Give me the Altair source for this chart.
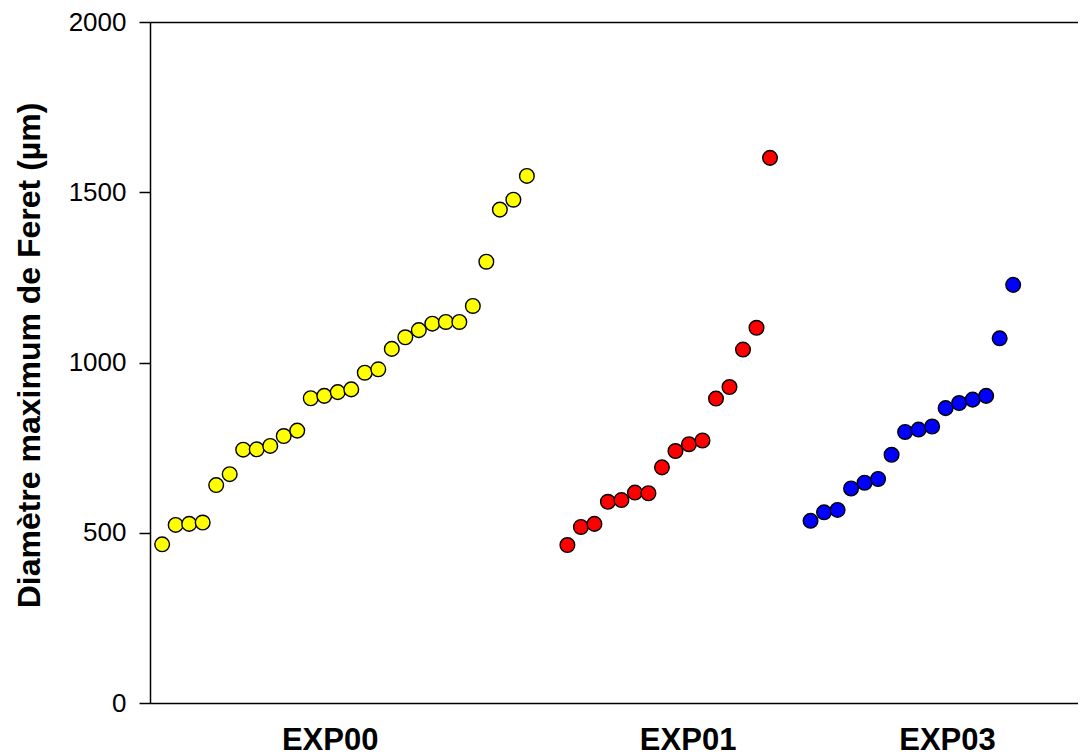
import altair as alt
import pandas as pd

# Values
exp00 = [466, 523, 526, 530, 640, 672, 744, 745, 755, 784, 800, 895, 902, 913,
         921, 970, 980, 1040, 1074, 1095, 1114, 1119, 1119, 1166, 1296, 1449, 1478, 1548]
exp01 = [464, 517, 526, 591, 596, 618, 616, 692, 740, 760, 771, 894, 928, 1038, 1102, 1601]
exp03 = [535, 560, 567, 630, 647, 658, 729, 796, 803, 812, 866, 881, 891, 902, 1071, 1228]

groups = ["EXP00", "EXP01", "EXP03"]
group_start = [1, 31, 49]          # running index of the first sample of each group
group_colors = ["#FFFF00", "#FF0000", "#0000FF"]
label_pos = [13.4, 39.9, 59.1]     # where each group name sits on the x axis

rows = []
for name, start, vals in zip(groups, group_start, [exp00, exp01, exp03]):
    for i, v in enumerate(vals):
        rows.append({"idx": start + i, "val": v, "group": name})
df = pd.DataFrame(rows)

label_expr = ("datum.value < 26 ? '" + groups[0] + "' : datum.value < 50 ? '"
              + groups[1] + "' : '" + groups[2] + "'")

xscale = alt.Scale(domain=[0.1, 68.8], nice=False, zero=False)
yscale = alt.Scale(domain=[0, 2000], nice=False)

points = alt.Chart(df).mark_point(
    filled=True, size=215, stroke="black", strokeWidth=1.4, opacity=1
).encode(
    x=alt.X("idx:Q", scale=xscale,
            axis=alt.Axis(values=label_pos, labelExpr=label_expr, title=None,
                          ticks=False, grid=False, domainColor="black", domainWidth=1.5,
                          labelFont="Liberation Sans", labelFontWeight="bold",
                          labelFontSize=31, labelColor="black", labelPadding=22,
                          orient="bottom")),
    y=alt.Y("val:Q", scale=yscale,
            axis=alt.Axis(values=[0, 500, 1000, 1500, 2000], format="d", grid=False,
                          title="Diamètre maximum de Feret (µm)",
                          titleFont="Liberation Sans", titleFontWeight="bold",
                          titleFontSize=32, titleColor="black", titlePadding=22,
                          titleY=333,
                          labelFont="Liberation Sans", labelFontSize=26,
                          labelColor="black", labelPadding=13,
                          tickSize=11, tickColor="black", tickWidth=1.5,
                          domainColor="black", domainWidth=1.5)),
    fill=alt.Fill("group:N", scale=alt.Scale(domain=groups, range=group_colors), legend=None),
)

frame_top = alt.Chart(df).mark_point(opacity=0).encode(
    x=alt.X("idx:Q", scale=xscale,
            axis=alt.Axis(orient="top", labels=False, ticks=False, grid=False, title=None,
                          domainColor="black", domainWidth=1.5)),
    y=alt.Y("val:Q", scale=yscale, axis=None),
)

chart = alt.layer(points, frame_top).resolve_axis(x="independent", y="independent").properties(
    width=928, height=681,
    autosize=alt.AutoSizeParams(type="none"),
    padding={"left": 142, "top": 14, "right": 0, "bottom": 60},
).configure_view(stroke=None).configure(background="white")

chart.save("out.html", embed_options={"renderer": "svg", "actions": False})
